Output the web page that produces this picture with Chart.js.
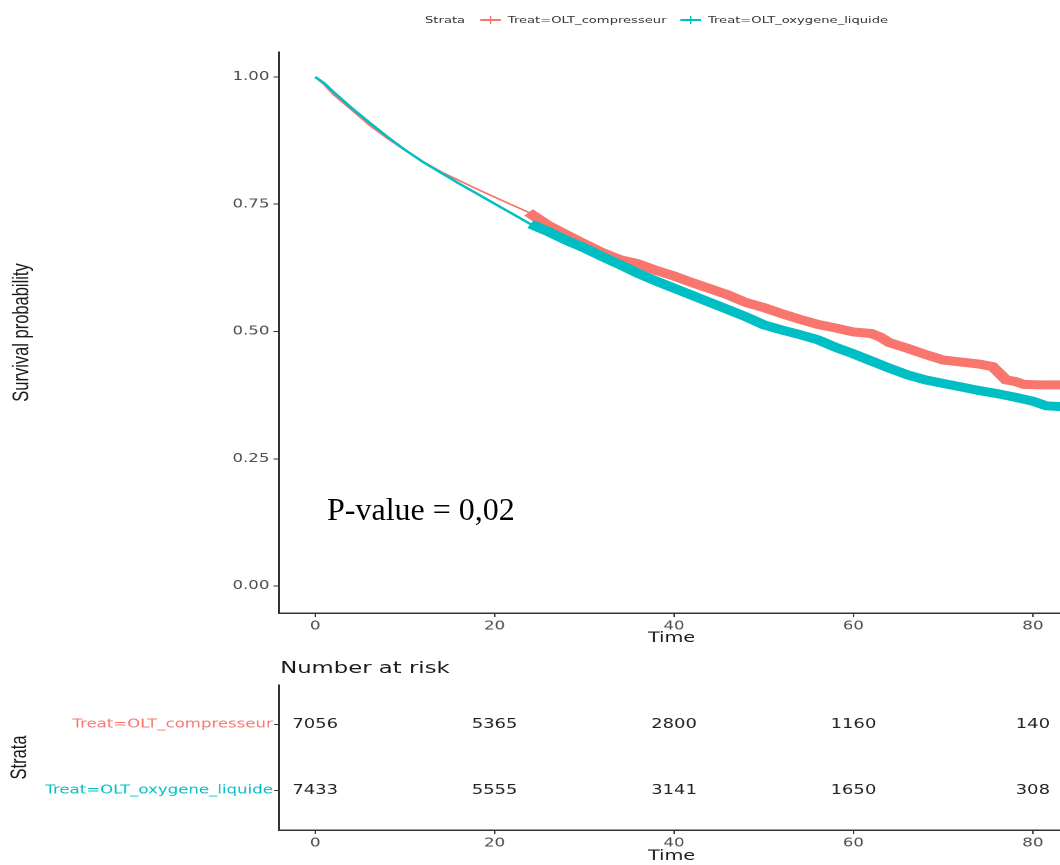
<!DOCTYPE html>
<html lang="en">
<head>
    <meta charset="UTF-8">
    <title>survival</title>
    <script src="https://cdn.jsdelivr.net/npm/chart.js@4.4.1/dist/chart.umd.min.js"></script>
    <style>
        html, body {
            margin: 0;
            padding: 0;
            background: #fff;
            overflow: hidden;
        }
        body {
            width: 1060px;
            height: 865px;
            position: relative;
        }
        /* the original figure is stretched sideways, so the whole plot is drawn narrow and widened */
        #wrap {
            position: absolute;
            left: 0;
            top: 0;
            width: 772px;
            height: 865px;
            transform: scaleX(1.38);
            transform-origin: 0 0;
        }
        #wrap canvas {
            position: absolute;
            left: 0;
        }
        #main { top: 0; }
        #risk { top: 655px; }
        .leg {
            position: absolute;
            top: 14px;
            line-height: 12px;
            font: 9.5px "DejaVu Sans";
            color: #333;
            white-space: nowrap;
        }
        .key {
            position: absolute;
            top: 15px;
            width: 14.5px;
            height: 10px;
        }
        .key i {
            position: absolute;
            background: currentColor;
        }
        .key .h { left: 0; right: 0; top: 4.4px; height: 1.3px; }
        .key .v { left: 6.7px; width: 1.1px; top: 1px; height: 8px; }
        #riskTitle {
            position: absolute;
            left: 203px;
            top: 658px;
            line-height: 20px;
            font: 16.5px "DejaVu Sans";
            color: #1a1a1a;
            white-space: nowrap;
        }
        #pval {
            position: absolute;
            left: 327px;
            top: 493px;
            font: 32px "Liberation Serif";
            line-height: 1;
            color: #000;
            white-space: nowrap;
        }
    </style>
</head>
<body>
    <div id="wrap">
        <div class="leg" style="left:308px">Strata</div>
        <div class="key" style="left:348px;color:#F8766D"><i class="h"></i><i class="v"></i></div>
        <div class="leg" style="left:368px">Treat=OLT_compresseur</div>
        <div class="key" style="left:493px;color:#00BFC4"><i class="h"></i><i class="v"></i></div>
        <div class="leg" style="left:513px">Treat=OLT_oxygene_liquide</div>

        <canvas id="main" width="771" height="647"></canvas>
        <div id="riskTitle">Number at risk</div>
        <canvas id="risk" width="771" height="210"></canvas>
    </div>
    <div id="pval">P-value = 0,02</div>

<script>
// Kaplan-Meier estimates
const strata = ['Treat=OLT_compresseur', 'Treat=OLT_oxygene_liquide'];

const timeCompresseur = [0, 1, 2, 4, 6, 8, 10, 12, 14, 16, 18, 20, 22, 23.8, 24.2, 26, 28, 30, 32, 34,
    36, 38, 40, 42, 44, 46, 48, 50, 52, 54, 56, 58, 60, 62, 63, 64, 66, 68, 70, 72,
    74, 75.5, 76.5, 77, 78, 79, 81, 83.5];
const survCompresseur = [1.000, 0.985, 0.966, 0.936, 0.906, 0.880, 0.856, 0.834, 0.814, 0.797,
    0.780, 0.764, 0.748, 0.734, 0.729, 0.708, 0.690, 0.672, 0.655, 0.641,
    0.633, 0.620, 0.609, 0.596, 0.584, 0.572, 0.557, 0.547, 0.535, 0.524,
    0.514, 0.507, 0.499, 0.496, 0.489, 0.478, 0.467, 0.455, 0.444, 0.440,
    0.436, 0.431, 0.414, 0.405, 0.402, 0.396, 0.395, 0.395];

const timeOxygene = [0, 1, 2, 4, 6, 8, 10, 12, 14, 16, 18, 20, 22, 24, 26, 28, 30, 32, 34, 36,
    38, 40, 42, 44, 46, 48, 50, 52, 54, 56, 58, 60, 62, 64, 66, 68, 70, 72, 74, 76,
    78, 80, 81.5, 83.5];
const survOxygene = [1.000, 0.988, 0.971, 0.940, 0.911, 0.883, 0.857, 0.833, 0.812, 0.791,
    0.771, 0.751, 0.731, 0.711, 0.696, 0.679, 0.664, 0.647, 0.631, 0.614,
    0.599, 0.585, 0.571, 0.557, 0.543, 0.529, 0.513, 0.503, 0.494, 0.484,
    0.469, 0.456, 0.442, 0.428, 0.415, 0.405, 0.398, 0.391, 0.384, 0.378,
    0.371, 0.363, 0.354, 0.352];

// from here on the censoring marks are so dense they form a band
const censorFromCompresseur = 23.8;
const censorFromOxygene = 24;

const xTicks = [0, 20, 40, 60, 80];
const yTicks = [0, 0.25, 0.5, 0.75, 1];

const riskTimes = [0, 20, 40, 60, 80];
const riskCompresseur = [7056, 5365, 2800, 1160, 140];
const riskOxygene = [7433, 5555, 3141, 1650, 308];

const RED = '#F8766D';
const CYAN = '#00BFC4';
const AXIS = '#333333';

function pts(times, surv, from) {
    var out = [];
    for (var i = 0; i < times.length; i++) {
        if (from === undefined || times[i] >= from) out.push({x: times[i], y: surv[i]});
    }
    return out;
}

function lineSet(data, color, width, order) {
    return {
        data: data,
        borderColor: color,
        backgroundColor: color,
        borderWidth: width,
        pointRadius: 0,
        tension: 0,
        fill: false,
        order: order
    };
}

const mainChart = new Chart(document.getElementById('main'), {
    type: 'line',
    data: {
        datasets: [
            lineSet(pts(timeOxygene, survOxygene, censorFromOxygene), CYAN, 9, 1),
            lineSet(pts(timeCompresseur, survCompresseur, censorFromCompresseur), RED, 9, 2),
            lineSet(pts(timeOxygene, survOxygene), CYAN, 2.2, 3),
            lineSet(pts(timeCompresseur, survCompresseur), RED, 1.6, 4)
        ]
    },
    options: {
        responsive: false,
        animation: false,
        devicePixelRatio: 2,
        layout: {padding: {top: 52, left: 0, right: 0, bottom: 0}},
        plugins: {legend: {display: false}, tooltip: {enabled: false}},
        scales: {
            x: {
                type: 'linear',
                min: -4.03,
                max: 83.47,
                afterBuildTicks: function(s) { s.ticks = xTicks.map(function(v) { return {value: v}; }); },
                afterFit: function(s) { s.height = 34; },
                grid: {drawOnChartArea: false, drawTicks: true, tickLength: 4, color: AXIS},
                border: {display: true, color: AXIS, width: 1.5},
                ticks: {font: {family: 'DejaVu Sans', size: 12}, color: '#4d4d4d', padding: 2, maxRotation: 0, autoSkip: false},
                title: {display: true, text: 'Time', font: {family: 'DejaVu Sans', size: 14}, color: '#1a1a1a', padding: {top: 0, bottom: 0}}
            },
            y: {
                type: 'linear',
                min: -0.053,
                max: 1.049,
                afterBuildTicks: function(s) { s.ticks = yTicks.map(function(v) { return {value: v}; }); },
                afterFit: function(s) { s.width = 202.2; },
                grid: {drawOnChartArea: false, drawTicks: true, tickLength: 4, color: AXIS},
                border: {display: true, color: AXIS, width: 1.5},
                ticks: {
                    font: {family: 'DejaVu Sans', size: 12},
                    color: '#4d4d4d',
                    padding: 3,
                    callback: function(v) { return v.toFixed(2); }
                },
                title: {display: true, text: 'Survival probability', font: {family: 'Liberation Sans', size: 16.5}, color: '#1a1a1a', padding: {top: 6, bottom: 0}}
            }
        }
    }
});

// writes the numbers at risk at each point of the table chart
const riskLabels = {
    id: 'riskLabels',
    afterDatasetsDraw: function(chart) {
        var ctx = chart.ctx;
        ctx.save();
        ctx.font = '13px "DejaVu Sans"';
        ctx.fillStyle = '#222';
        ctx.textAlign = 'center';
        ctx.textBaseline = 'middle';
        chart.data.datasets.forEach(function(ds, i) {
            chart.getDatasetMeta(i).data.forEach(function(el, j) {
                ctx.fillText(String(ds.data[j].n), el.x, el.y);
            });
        });
        ctx.restore();
    }
};

function riskRow(counts, row) {
    return riskTimes.map(function(t, i) { return {x: t, y: row, n: counts[i]}; });
}

const riskChart = new Chart(document.getElementById('risk'), {
    type: 'line',
    data: {
        datasets: [
            {data: riskRow(riskCompresseur, 2), showLine: false, pointRadius: 0},
            {data: riskRow(riskOxygene, 1), showLine: false, pointRadius: 0}
        ]
    },
    plugins: [riskLabels],
    options: {
        responsive: false,
        animation: false,
        devicePixelRatio: 2,
        layout: {padding: {top: 30, left: 0, right: 0, bottom: 0}},
        plugins: {legend: {display: false}, tooltip: {enabled: false}},
        scales: {
            x: {
                type: 'linear',
                min: -4.03,
                max: 83.47,
                afterBuildTicks: function(s) { s.ticks = xTicks.map(function(v) { return {value: v}; }); },
                afterFit: function(s) { s.height = 35; },
                grid: {drawOnChartArea: false, drawTicks: true, tickLength: 4, color: AXIS},
                border: {display: true, color: AXIS, width: 1.5},
                ticks: {font: {family: 'DejaVu Sans', size: 12}, color: '#4d4d4d', padding: 2, maxRotation: 0, autoSkip: false},
                title: {display: true, text: 'Time', font: {family: 'DejaVu Sans', size: 14}, color: '#1a1a1a', padding: {top: 0, bottom: 0}}
            },
            y: {
                type: 'linear',
                min: 0.4,
                max: 2.6,
                afterBuildTicks: function(s) { s.ticks = [{value: 1}, {value: 2}]; },
                afterFit: function(s) { s.width = 202.2; },
                grid: {drawOnChartArea: false, drawTicks: true, tickLength: 3.5, color: AXIS},
                border: {display: true, color: AXIS, width: 1.5},
                ticks: {
                    font: {family: 'DejaVu Sans', size: 12},
                    padding: 1,
                    color: function(c) { return c.tick && c.tick.value === 2 ? RED : CYAN; },
                    callback: function(v) { return v === 2 ? strata[0] : strata[1]; }
                },
                title: {display: true, text: 'Strata', font: {family: 'Liberation Sans', size: 16.5}, color: '#1a1a1a', padding: {top: 4.6, bottom: 0}}
            }
        }
    }
});
</script>
</body>
</html>
